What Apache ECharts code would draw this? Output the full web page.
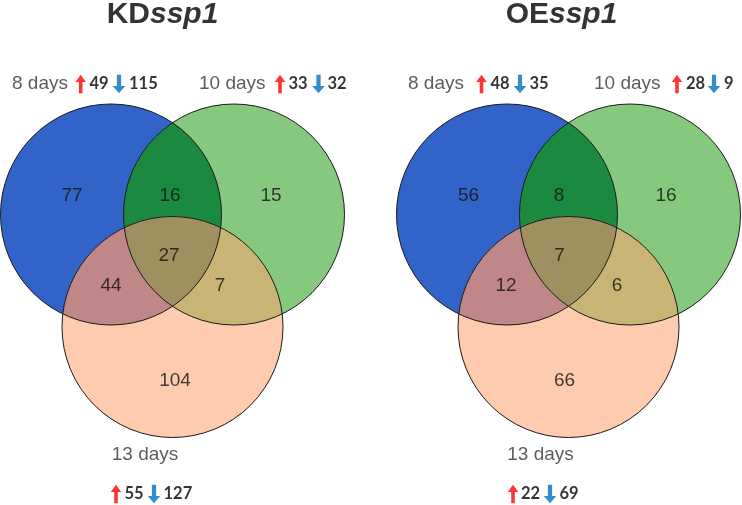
<!DOCTYPE html>
<html><head><meta charset="utf-8">
<script src="https://cdn.jsdelivr.net/npm/echarts@6/dist/echarts.min.js"></script>
<style>html,body{margin:0;padding:0;background:#fff}#c{width:742px;height:505px}</style>
</head><body><div id="c"></div>
<script>
// ---------------- data ----------------
const setNames = ['8 days', '10 days', '13 days'];
const panelPrefix = ['KD', 'OE'];
const geneName = 'ssp1';
// region order: A only, A∩B, B only, A∩C, A∩B∩C, B∩C, C only
const regionKD = [77, 16, 15, 44, 27, 7, 104];
const regionOE = [56, 8, 16, 12, 7, 6, 66];
const upKD = [49, 33, 55];
const downKD = [115, 32, 127];
const upOE = [48, 28, 22];
const downOE = [35, 9, 69];

// ---------------- layout / style ----------------
const regions = [regionKD, regionOE];
const ups = [upKD, upOE];
const downs = [downKD, downOE];
const R = 110.5;
const centers = [
  [[111, 214.5], [234, 214.5], [172.5, 327]],
  [[507, 214.5], [630, 214.5], [568.5, 327]]
];
const regionPos = [
  [[72, 195.5], [170, 195.5], [271, 195.5], [111, 285.5], [169, 255.5], [220, 285.5], [175, 380.5]],
  [[468.5, 195.5], [559, 195.5], [666, 195.5], [506, 285.5], [559.5, 255.5], [617, 285.5], [564.5, 380.5]]
];
const headerPos = [
  [
    {name: [12, 84], align: 'left', ay: 84, up: 80.7, upN: 89.5, dn: 119, dnN: 129},
    {name: [199, 84], align: 'left', ay: 84, up: 280, upN: 288.5, dn: 318.5, dnN: 327.5},
    {name: [145, 455], align: 'center', ay: 494, up: 116, upN: 124.5, dn: 154, dnN: 163.5}
  ],
  [
    {name: [408, 84], align: 'left', ay: 84, up: 481.5, upN: 490.5, dn: 520, dnN: 529.5},
    {name: [594, 84], align: 'left', ay: 84, up: 677, upN: 686, dn: 714, dnN: 724},
    {name: [540.5, 455], align: 'center', ay: 494, up: 513, upN: 521, dn: 550, dnN: 559.5}
  ]
];
const titlePos = [[162.5, 15], [561.5, 15]];
const circleColors = ['#3263C9', '#86C97E', '#FFCBAF'];
const lensColors = {3: '#1B8A40', 5: '#BF8788', 6: '#C8B474', 7: '#9E915F'};
const FONT = 'Liberation Sans';

const upPath = 'path://M5,0 L10,7 L6.7,7 L6.7,18 L3.3,18 L3.3,7 L0,7 Z';
const downPath = 'path://M5,18 L10,11 L6.7,11 L6.7,0 L3.3,0 L3.3,11 L0,11 Z';

// shapes: [panel, kind, mask]  kind 0 = fill circle, 1 = intersection, 2 = outline
const shapes = [];
for (let p = 0; p < 2; p++) {
  for (let i = 0; i < 3; i++) shapes.push([p, 0, 1 << i]);
  [3, 5, 6, 7].forEach(m => shapes.push([p, 1, m]));
  for (let i = 0; i < 3; i++) shapes.push([p, 2, 1 << i]);
}

function renderItem(params, api) {
  const p = api.value(0), kind = api.value(1), mask = api.value(2);
  const rpx = api.size([R, R])[0];
  const cs = centers[p].map(c => api.coord(c));
  const idx = [0, 1, 2].filter(i => mask & (1 << i));
  if (kind === 0 || kind === 2) {
    const c = cs[idx[0]];
    return {
      type: 'circle',
      shape: {cx: c[0], cy: c[1], r: rpx},
      style: kind === 0 ? {fill: circleColors[idx[0]], stroke: null}
                        : {fill: null, stroke: '#1a1a1a', lineWidth: 1}
    };
  }
  let ox = 0, oy = 0;
  idx.forEach(i => { ox += cs[i][0]; oy += cs[i][1]; });
  ox /= idx.length; oy /= idx.length;
  const pts = [];
  const N = 720;
  for (let k = 0; k < N; k++) {
    const a = (k / N) * Math.PI * 2;
    const ux = Math.cos(a), uy = Math.sin(a);
    let t = Infinity;
    idx.forEach(i => {
      const dx = cs[i][0] - ox, dy = cs[i][1] - oy;
      const b = ux * dx + uy * dy;
      const cc = dx * dx + dy * dy - rpx * rpx;
      const tt = b + Math.sqrt(b * b - cc);
      if (tt < t) t = tt;
    });
    pts.push([ox + ux * t, oy + uy * t]);
  }
  return {type: 'polygon', shape: {points: pts}, style: {fill: lensColors[mask], stroke: null}};
}

const regionLabels = [];
regions.forEach((arr, p) => arr.forEach((v, i) => regionLabels.push([regionPos[p][i][0], regionPos[p][i][1], String(v)])));

const nameLeft = [], nameCenter = [], numData = [], upArrows = [], downArrows = [];
headerPos.forEach((hp, p) => hp.forEach((h, s) => {
  (h.align === 'left' ? nameLeft : nameCenter).push([h.name[0], h.name[1], setNames[s]]);
  upArrows.push([h.up, h.ay]);
  downArrows.push([h.dn, h.ay]);
  numData.push([h.upN, h.ay, String(ups[p][s])]);
  numData.push([h.dnN, h.ay, String(downs[p][s])]);
}));
const titleData = titlePos.map((t, p) => [t[0], t[1], panelPrefix[p]]);

const textSeries = (data, label) => ({
  type: 'scatter', data, symbolSize: 0, silent: true, z: 10,
  label: Object.assign({show: true, formatter: d => d.value[2]}, label)
});

const chart = echarts.init(document.getElementById('c'), null, {renderer: 'canvas'});
chart.setOption({
  animation: false,
  backgroundColor: '#ffffff',
  grid: {left: 0, right: 0, top: 0, bottom: 0},
  xAxis: {type: 'value', min: 0, max: 742, show: false},
  yAxis: {type: 'value', min: 0, max: 505, inverse: true, show: false},
  series: [
    {type: 'custom', renderItem, data: shapes, silent: true, clip: false, z: 1},
    textSeries(regionLabels, {position: 'inside', fontFamily: FONT, fontSize: 19, color: '#111'}),
    textSeries(nameLeft, {position: 'right', distance: 0, fontFamily: FONT, fontSize: 19, color: '#333'}),
    textSeries(nameCenter, {position: 'inside', fontFamily: FONT, fontSize: 19, color: '#333'}),
    textSeries(numData, {position: 'right', distance: 0, fontFamily: 'Lato', fontWeight: 'bold', fontSize: 16.5, color: '#000'}),
    textSeries(titleData, {
      position: 'inside',
      formatter: d => '{a|' + d.value[2] + '}{b|' + geneName + '}',
      rich: {
        a: {fontFamily: FONT, fontWeight: 'bold', fontSize: 30, color: '#000'},
        b: {fontFamily: FONT, fontWeight: 'bold', fontStyle: 'italic', fontSize: 30, color: '#000'}
      }
    }),
    {type: 'scatter', data: upArrows, symbol: upPath, symbolSize: [10.5, 18.5], silent: true, z: 10,
     itemStyle: {color: '#FF0000'}},
    {type: 'scatter', data: downArrows, symbol: downPath, symbolSize: [12.5, 18.5], silent: true, z: 10,
     itemStyle: {color: '#0070C0'}}
  ]
});
</script></body></html>
